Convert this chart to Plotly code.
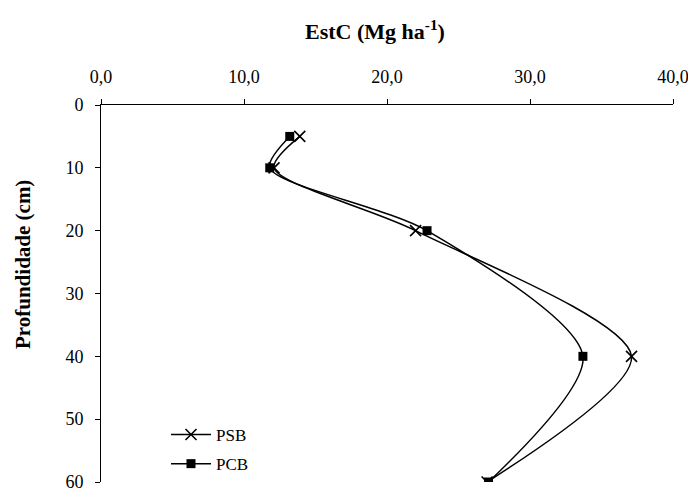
import plotly.graph_objects as go

depth = [5, 10, 20, 40, 60]
psb = [13.9, 12.1, 22.0, 37.1, 27.0]
pcb = [13.2, 11.8, 22.8, 33.7, 27.1]
x_ticks = [0, 10, 20, 30, 40]
y_ticks = [0, 10, 20, 30, 40, 50, 60]

FONT = "Liberation Serif"

# page body has an 8px margin, so the figure is 8px smaller than the window
W, H = 688, 481
L, R, T, B = 93, 23, 97, 7
PW, PH = W - L - R, H - T - B


def px_to_paper(px, py):
    # px, py are window pixel coordinates
    return (px - 8 - L) / PW, (H - B - (py - 8)) / PH


fig = go.Figure()
fig.add_trace(go.Scatter(
    x=psb, y=depth, name="PSB", mode="lines+markers", legendgroup="a",
    line=dict(color="black", width=1.5, shape="spline", smoothing=0.8),
    marker=dict(symbol="x-thin", size=11, color="black",
                line=dict(color="black", width=1.6)),
))
fig.add_trace(go.Scatter(
    x=pcb, y=depth, name="PCB", mode="lines+markers", legendgroup="b",
    line=dict(color="black", width=1.5, shape="spline", smoothing=0.8),
    marker=dict(symbol="square", size=9, color="black"),
))

lx, ly = px_to_paper(166, 417)
tx, ty = px_to_paper(375, 30)
yx, yy = px_to_paper(23, 265)

fig.update_layout(
    width=W, height=H,
    margin=dict(l=L, r=R, t=T, b=B, autoexpand=False),
    paper_bgcolor="white", plot_bgcolor="white",
    separators=",.",
    font=dict(family=FONT, size=18, color="black"),
    showlegend=True,
    legend=dict(x=lx, y=ly, xanchor="left", yanchor="top",
                bgcolor="rgba(0,0,0,0)", font=dict(family=FONT, size=17),
                itemwidth=40, tracegroupgap=4),
    xaxis=dict(side="top", range=[0, 40], tickvals=x_ticks, tickformat=".1f",
               showline=True, linecolor="black", linewidth=1,
               ticks="outside", ticklen=5, tickcolor="black",
               ticklabelstandoff=9, ticklabeloverflow="allow",
               showgrid=False, zeroline=False, fixedrange=True),
    yaxis=dict(range=[60, 0], tickvals=y_ticks,
               showline=True, linecolor="black", linewidth=1,
               ticks="outside", ticklen=5, tickcolor="black",
               ticklabelstandoff=8, ticklabeloverflow="allow",
               showgrid=False, zeroline=False, fixedrange=True),
    annotations=[
        dict(text="<b>EstC (Mg ha<sup>-1</sup>)</b>", x=tx, y=ty, xref="paper",
             yref="paper", xanchor="center", yanchor="middle",
             showarrow=False, font=dict(family=FONT, size=22)),
        dict(text="<b>Profundidade (cm)</b>", x=yx, y=yy, xref="paper",
             yref="paper", xanchor="center", yanchor="middle",
             showarrow=False, textangle=-90, font=dict(family=FONT, size=21)),
    ],
)

fig.write_html("out.html")
